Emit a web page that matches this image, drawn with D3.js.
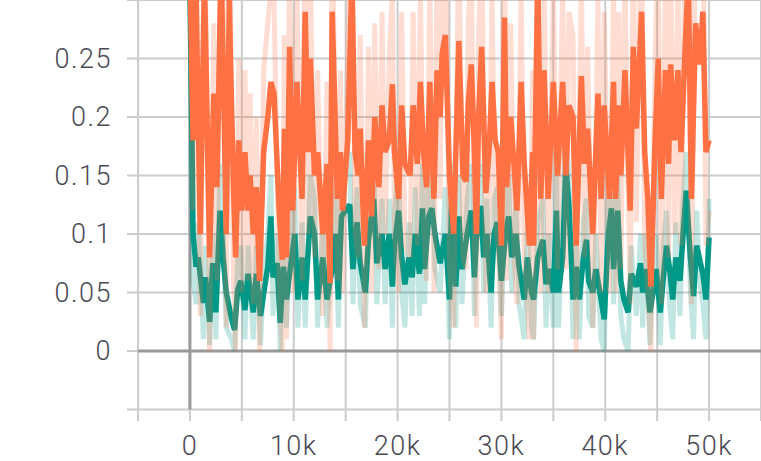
<!DOCTYPE html>
<html>
<head>
<meta charset="utf-8">
<script src="https://cdn.jsdelivr.net/npm/d3@7"></script>
<style>
  html, body { margin: 0; padding: 0; background: #ffffff; }
  svg { display: block; }
  text { font-family: Roboto, "Open Sans", sans-serif; font-weight: 300; fill: #4a4a55; }
</style>
</head>
<body>
<svg id="chart" width="761" height="461"></svg>
<script>
// ---- data: steps in thousands ----
const orangeStepsK = [0,0.3,0.6,1.0,1.4,1.9,2.3,2.6,3.0,3.3,3.5,3.8,3.9,4.2,4.4,4.7,5.0,5.3,5.6,5.8,6.1,6.4,6.7,7.1,7.5,7.8,
8.1,8.6,8.9,9.1,9.3,9.6,9.9,10.3,10.8,11.1,11.4,11.6,12.0,12.3,12.8,13.2,13.5,13.7,14.2,14.5,14.7,15.2,15.6,15.9,16.2,16.4,
16.8,17.2,17.5,17.8,18.2,18.5,18.8,19.2,19.5,19.7,20.1,20.4,20.7,21.2,21.5,21.9,22.2,22.5,22.8,23.1,23.5,23.8,24.1,24.3,24.6,
25.0,25.4,25.9,26.3,26.6,26.8,27.1,27.4,27.6,27.8,28.1,28.5,28.8,29.1,29.4,29.7,30.0,30.3,30.5,30.9,31.2,31.5,31.9,32.2,32.7,33.0,
33.1,33.5,33.8,34.1,34.5,35.0,35.4,35.9,36.2,36.5,36.9,37.2,37.7,38.0,38.3,38.8,39.3,39.6,39.9,40.4,40.8,41.0,41.3,
41.5,41.9,42.4,42.7,43.0,43.5,43.8,44.1,44.4,44.8,45.1,45.4,45.8,46.1,46.3,46.7,47.0,47.3,47.7,48.0,48.3,48.7,49.1,49.4,49.7,50.0];
const orangeSmoothed = [0.33,0.18,0.30,0.10,0.32,0.08,0.22,0.14,0.33,0.20,0.10,0.30,0.25,0.14,0.08,0.18,0.12,0.17,0.12,0.15,0.10,0.14,0.06,0.17,0.20,0.23,
0.22,0.12,0.078,0.19,0.08,0.26,0.12,0.23,0.13,0.29,0.17,0.25,0.15,0.17,0.10,0.16,0.058,0.29,0.13,0.17,0.12,0.18,0.32,0.17,0.15,0.19,
0.09,0.18,0.115,0.20,0.14,0.21,0.17,0.18,0.228,0.17,0.13,0.21,0.16,0.15,0.21,0.16,0.23,0.17,0.14,0.23,0.13,0.24,0.20,0.255,0.27,
0.15,0.10,0.265,0.15,0.145,0.21,0.245,0.17,0.10,0.20,0.26,0.135,0.17,0.23,0.18,0.17,0.09,0.285,0.14,0.20,0.16,0.12,0.23,0.16,0.09,0.17,
0.09,0.32,0.13,0.24,0.13,0.23,0.15,0.23,0.15,0.21,0.20,0.09,0.235,0.16,0.19,0.10,0.22,0.13,0.21,0.13,0.23,0.13,0.21,
0.15,0.24,0.12,0.26,0.19,0.29,0.17,0.13,0.055,0.18,0.25,0.13,0.24,0.16,0.245,0.18,0.24,0.17,0.26,0.32,0.13,0.28,0.245,0.29,0.17,0.18];
const orangeRaw = [0.40,0.12,0.38,0.03,0.40,0.00,0.28,0.06,0.40,0.26,0.02,0.38,0.30,0.06,0.00,0.25,0.05,0.24,0.06,0.22,0.04,0.20,0.00,0.24,0.28,0.31,
0.30,0.05,0.00,0.27,0.01,0.34,0.05,0.31,0.06,0.38,0.10,0.33,0.08,0.24,0.03,0.23,0.00,0.38,0.06,0.24,0.05,0.26,0.40,0.10,0.08,0.27,
0.02,0.26,0.05,0.28,0.07,0.29,0.10,0.25,0.31,0.10,0.05,0.29,0.09,0.08,0.29,0.09,0.31,0.10,0.06,0.31,0.05,0.33,0.13,0.34,0.36,
0.07,0.02,0.36,0.08,0.07,0.28,0.33,0.09,0.02,0.27,0.35,0.05,0.10,0.31,0.11,0.09,0.01,0.38,0.06,0.28,0.08,0.04,0.31,0.08,0.01,0.24,
0.01,0.40,0.05,0.32,0.05,0.31,0.07,0.31,0.07,0.29,0.27,0.00,0.32,0.08,0.26,0.02,0.30,0.05,0.29,0.05,0.31,0.05,0.29,
0.07,0.32,0.04,0.35,0.11,0.38,0.09,0.05,0.00,0.25,0.34,0.04,0.32,0.08,0.33,0.10,0.32,0.09,0.35,0.40,0.04,0.37,0.32,0.38,0.09,0.12];

const tealStepsK = [0,0.2,0.3,0.6,0.8,1.3,1.5,1.9,2.2,2.5,2.9,3.2,3.5,4.0,4.3,4.6,4.9,5.3,5.6,6.1,6.4,6.8,7.2,7.5,7.8,
8.0,8.4,8.7,9.0,9.3,9.6,10.1,10.4,10.8,11.1,11.6,12.0,12.3,12.8,13.2,13.7,14.0,14.3,14.6,15.1,15.4,15.7,16.1,
16.4,16.9,17.2,17.7,18.0,18.5,18.8,19.2,19.5,19.7,20.1,20.4,20.7,21.1,21.4,21.7,22.1,22.4,22.6,23.0,23.3,23.6,24.1,24.6,
25.0,25.2,25.6,25.9,26.2,26.7,27.1,27.4,27.6,28.0,28.3,28.6,29.0,29.3,29.6,30.0,30.4,30.7,31.0,31.4,31.7,32.2,32.5,32.9,
33.1,33.5,34.0,34.3,34.6,35.0,35.3,35.5,35.9,36.2,36.5,36.9,37.2,37.5,37.9,38.2,38.4,38.8,39.1,39.6,39.9,40.3,40.6,40.8,41.2,
41.5,41.8,42.2,42.5,43.0,43.4,43.6,43.9,44.3,44.6,44.9,45.3,45.6,45.9,46.2,46.5,46.8,47.2,47.5,47.8,48.2,48.5,48.8,49.1,49.4,49.7,50.0];
const tealSmoothed = [0.31,0.18,0.10,0.072,0.08,0.041,0.063,0.025,0.075,0.033,0.12,0.08,0.05,0.028,0.018,0.052,0.06,0.035,0.066,0.033,0.066,0.03,0.055,0.072,0.115,
0.063,0.075,0.024,0.072,0.044,0.066,0.10,0.044,0.08,0.044,0.115,0.10,0.044,0.08,0.044,0.07,0.10,0.044,0.115,0.122,0.125,0.07,0.11,
0.075,0.05,0.095,0.13,0.075,0.10,0.07,0.10,0.055,0.09,0.12,0.08,0.057,0.08,0.063,0.10,0.066,0.122,0.07,0.115,0.122,0.10,0.075,0.10,
0.044,0.125,0.055,0.115,0.07,0.10,0.12,0.063,0.097,0.124,0.08,0.10,0.05,0.10,0.11,0.06,0.10,0.115,0.08,0.10,0.072,0.044,0.08,0.05,
0.044,0.08,0.095,0.057,0.07,0.05,0.12,0.05,0.08,0.157,0.125,0.044,0.072,0.044,0.08,0.095,0.06,0.05,0.07,0.044,0.027,0.10,0.122,0.07,0.12,
0.06,0.044,0.033,0.066,0.055,0.075,0.05,0.07,0.033,0.05,0.07,0.033,0.063,0.09,0.07,0.044,0.08,0.06,0.10,0.137,0.08,0.047,0.09,0.078,0.066,0.044,0.097];
const tealRaw = [0.33,0.14,0.06,0.04,0.11,0.01,0.09,0.005,0.10,0.01,0.16,0.10,0.02,0.01,0.00,0.08,0.09,0.01,0.09,0.01,0.09,0.005,0.08,0.10,0.15,
0.03,0.10,0.00,0.10,0.02,0.09,0.14,0.02,0.11,0.02,0.15,0.13,0.02,0.11,0.02,0.09,0.14,0.02,0.15,0.16,0.17,0.04,0.14,
0.04,0.02,0.13,0.17,0.04,0.13,0.04,0.13,0.02,0.12,0.16,0.05,0.02,0.11,0.03,0.14,0.03,0.16,0.04,0.15,0.16,0.07,0.05,0.14,
0.01,0.16,0.02,0.15,0.04,0.13,0.16,0.03,0.13,0.16,0.05,0.13,0.02,0.13,0.14,0.03,0.13,0.15,0.05,0.13,0.04,0.01,0.11,0.02,
0.01,0.11,0.13,0.02,0.10,0.02,0.16,0.02,0.11,0.19,0.15,0.01,0.10,0.01,0.11,0.13,0.03,0.02,0.10,0.01,0.00,0.14,0.16,0.04,0.15,
0.03,0.01,0.00,0.09,0.03,0.10,0.02,0.10,0.005,0.08,0.10,0.005,0.09,0.12,0.04,0.01,0.11,0.03,0.13,0.17,0.05,0.01,0.12,0.06,0.04,0.01,0.13];

const xGridValues = [-5000,0,5000,10000,15000,20000,25000,30000,35000,40000,45000,50000,55000];
const yGridValues = [-0.05,0,0.05,0.1,0.15,0.2,0.25,0.3];
const xTickValues = [0,10000,20000,30000,40000,50000];
const xTickLabels = ["0","10k","20k","30k","40k","50k"];
const yTickValues = [0,0.05,0.1,0.15,0.2,0.25];
const yTickLabels = ["0","0.05","0.1","0.15","0.2","0.25"];

const colorOrange = "#ff7043";
const colorTeal = "#009988";

// ---- layout ----
const svg = d3.select("#chart");
const plotLeft = 138, plotRight = 761, plotTop = 0, plotBottom = 409.5;
const x = d3.scaleLinear().domain([-5000, 55000]).range([plotLeft, plotRight]);
const y = d3.scaleLinear().domain([-0.05, 0.3]).range([plotBottom, plotTop]);

// grid
const grid = svg.append("g");
grid.selectAll("line.v").data(xGridValues).join("line")
  .attr("x1", d => x(d)).attr("x2", d => x(d))
  .attr("y1", plotTop).attr("y2", 421)
  .attr("stroke", "#cccccc").attr("stroke-width", 2);
grid.selectAll("line.h").data(yGridValues).join("line")
  .attr("x1", 127).attr("x2", plotRight)
  .attr("y1", d => y(d)).attr("y2", d => y(d))
  .attr("stroke", "#cccccc").attr("stroke-width", 2);
// zero lines
grid.append("line").attr("x1", x(0)).attr("x2", x(0)).attr("y1", plotTop).attr("y2", plotBottom)
  .attr("stroke", "#999999").attr("stroke-width", 3);
grid.append("line").attr("x1", plotLeft).attr("x2", plotRight).attr("y1", y(0)).attr("y2", y(0))
  .attr("stroke", "#999999").attr("stroke-width", 3);

// clip
svg.append("clipPath").attr("id", "clip").append("rect")
  .attr("x", plotLeft).attr("y", plotTop).attr("width", plotRight - plotLeft).attr("height", plotBottom - plotTop);

const plot = svg.append("g").attr("clip-path", "url(#clip)");

function drawSeries(stepsK, raw, smooth, color) {
  const line = d3.line().x((d, i) => x(stepsK[i] * 1000)).y(d => y(d));
  plot.append("path").datum(raw).attr("d", line)
    .attr("fill", "none").attr("stroke", color).attr("stroke-opacity", 0.24)
    .attr("stroke-width", 5).attr("stroke-linejoin", "bevel");
  plot.append("path").datum(smooth).attr("d", line)
    .attr("fill", "none").attr("stroke", color)
    .attr("stroke-width", 5.5).attr("stroke-linejoin", "bevel");
}
drawSeries(tealStepsK, tealRaw, tealSmoothed, colorTeal);
drawSeries(orangeStepsK, orangeRaw, orangeSmoothed, colorOrange);

// labels
svg.append("g").selectAll("text").data(yTickValues).join("text")
  .attr("x", 112).attr("y", d => y(d) + 9)
  .attr("text-anchor", "end").attr("font-size", 27).attr("letter-spacing", 1.5)
  .text((d, i) => yTickLabels[i]);
svg.append("g").selectAll("text").data(xTickValues).join("text")
  .attr("x", d => x(d)).attr("y", 455)
  .attr("text-anchor", "middle").attr("font-size", 27).attr("letter-spacing", 1.5)
  .text((d, i) => xTickLabels[i]);
</script>
</body>
</html>
